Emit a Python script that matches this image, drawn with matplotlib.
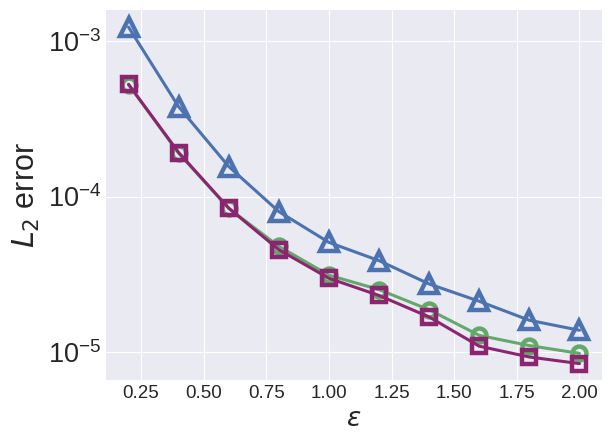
import matplotlib
matplotlib.use("Agg")
import matplotlib.pyplot as plt
import numpy as np

plt.style.use("seaborn-v0_8-darkgrid")
plt.rcParams['font.family'] = ['Liberation Sans', 'DejaVu Sans']
plt.rcParams['mathtext.fontset'] = 'dejavusans'

eps = [0.2, 0.4, 0.6, 0.8, 1.0, 1.2, 1.4, 1.6, 1.8, 2.0]
err_tri = [1.23e-3, 3.78e-4, 1.56e-4, 8.0e-5, 5.07e-5, 3.87e-5, 2.74e-5, 2.12e-5, 1.60e-5, 1.38e-5]
err_circ = [5.25e-4, 1.90e-4, 8.4e-5, 4.78e-5, 3.12e-5, 2.52e-5, 1.87e-5, 1.28e-5, 1.10e-5, 9.8e-6]
err_sq = [5.27e-4, 1.92e-4, 8.42e-5, 4.55e-5, 2.98e-5, 2.31e-5, 1.68e-5, 1.09e-5, 9.29e-6, 8.42e-6]

fig = plt.figure(figsize=(6.12, 4.45), dpi=100)
ax = fig.add_axes([106/612, 1 - 380/445, (602-106)/612, (380-10)/445])

lw = 2.2
ax.plot(eps, err_tri, color='#4C72B0', marker='^', ms=12.5, mfc='none', mew=3.2, lw=lw)
ax.plot(eps, err_circ, color='#64A86A', marker='o', ms=10, mfc='none', mew=3.2, lw=lw)
ax.plot(eps, err_sq, color='#8B2570', marker='s', ms=10, mfc='none', mew=3.2, lw=lw)

ax.set_yscale('log')
ax.set_ylim(10**-5.18, 10**-2.80)
ax.set_xticks([0.25, 0.5, 0.75, 1.0, 1.25, 1.5, 1.75, 2.0])
ax.tick_params(axis='x', labelsize=13.5, labelcolor='#262626')
ax.tick_params(axis='y', labelsize=19.5, labelcolor='#262626')
ax.set_xlabel(r'$\varepsilon$', fontsize=19, color='#262626')
ax.set_ylabel(r'$L_2$ error', fontsize=22, color='#262626')

fig.savefig('out.png', dpi=100)
